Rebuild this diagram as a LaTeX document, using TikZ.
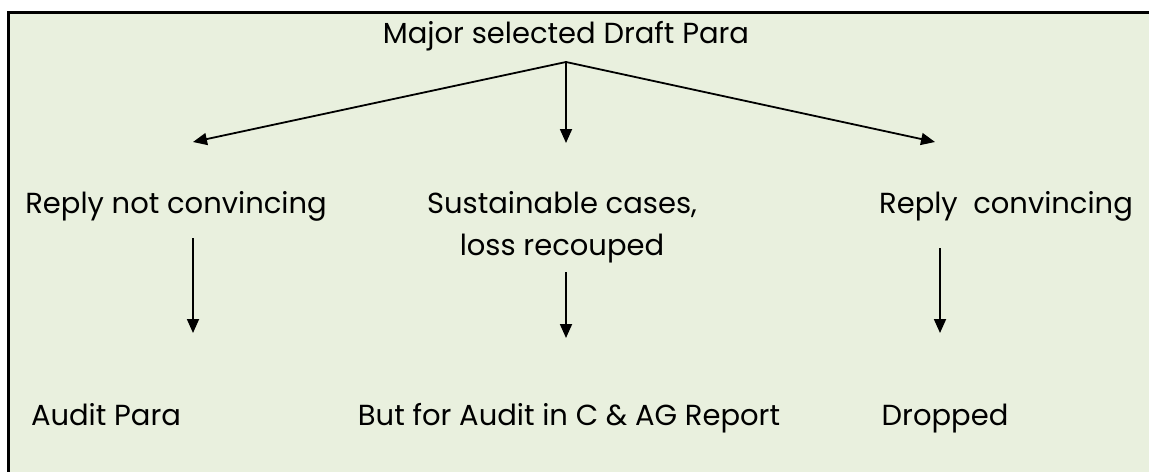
\documentclass[tikz,border=0pt]{standalone}
\usepackage{fontspec}
\setmainfont{Poppins}
\usetikzlibrary{arrows.meta}
\definecolor{colBg}{RGB}{233,240,222}

\begin{document}
\begin{tikzpicture}[
    x=0.5pt, y=-0.5pt,
    item/.style={anchor=base, inner sep=0pt, font=\fontsize{14.5}{21}\selectfont},
    link/.style={line width=0.9pt, -{Triangle[length=7pt, width=6pt]}},
  ]

  % ---- page area and the green panel ------------------------------------
  \clip (0,0) rectangle (1149,471);
  \fill[white] (0,0) rectangle (1149,471);
  \filldraw[fill=colBg, draw=black, line width=1.5pt] (8,12) rectangle (1170,490);

  % ---- top ----------------------------------------------------------------
  \node[item] (draft) at (566,43) {Major selected Draft Para};
  \coordinate (split) at (566,62);

  % ---- second row (base of a two-line node = its last line) ---------------
  \node[item] (notconv)  at (176,213)  {Reply not convincing};
  \node[item, align=center] (sustain) at (562,255) {Sustainable cases,\\ loss recouped};
  \node[item] (conv)     at (1006,213) {Reply\ \ convincing};

  % ---- bottom row ---------------------------------------------------------
  \node[item] (para)     at (106,425) {Audit Para};
  \node[item] (report)   at (569,425) {But for Audit in C \& AG Report};
  \node[item] (dropped)  at (945,425) {Dropped};

  % ---- arrow ends -------------------------------------------------------
  \coordinate (tipL) at (193,142);
  \coordinate (tipM) at (566,143);
  \coordinate (tipR) at (935,142);
  \coordinate (fromL) at (193,238);
  \coordinate (toL)   at (193,333);
  \coordinate (fromM) at (566,272);
  \coordinate (toM)   at (566,338);
  \coordinate (fromR) at (940,248);
  \coordinate (toR)   at (940,333);

  % ---- arrows -------------------------------------------------------------
  \draw[link] (split) -- (tipL);
  \draw[link] (split) -- (tipM);
  \draw[link] (split) -- (tipR);
  \draw[link] (fromL) -- (toL);
  \draw[link] (fromM) -- (toM);
  \draw[link] (fromR) -- (toR);

\end{tikzpicture}
\end{document}
